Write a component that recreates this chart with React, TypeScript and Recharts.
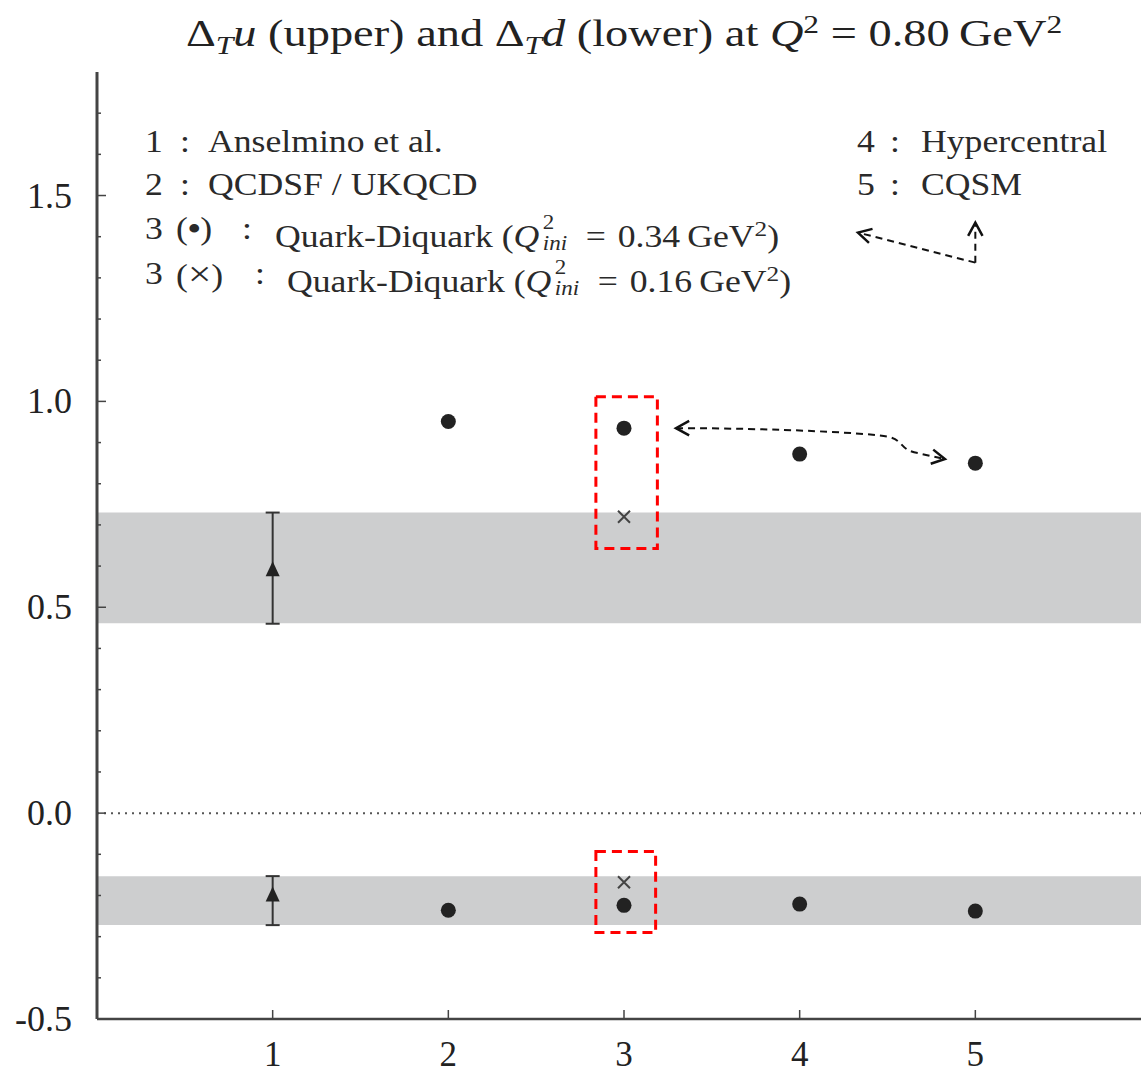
import React from "react";
import {
  ScatterChart,
  Scatter,
  XAxis,
  YAxis,
  ReferenceArea,
  ReferenceLine,
  ErrorBar,
} from "recharts";

// x positions = model number (1..5)
const xTicks = [1, 2, 3, 4, 5];
const yMajor = [-0.5, 0.0, 0.5, 1.0, 1.5];
const yTicks = [
  -0.5, -0.4, -0.3, -0.2, -0.1, 0.0, 0.1, 0.2, 0.3, 0.4, 0.5, 0.6, 0.7, 0.8,
  0.9, 1.0, 1.1, 1.2, 1.3, 1.4, 1.5, 1.6, 1.7,
];

// filled dots (models 2..5)
const dotModels = [2, 3, 4, 5];
const upperDot = [0.951, 0.935, 0.872, 0.85];
const lowerDot = [-0.236, -0.224, -0.221, -0.238];

// crosses (model 3, Q2_ini = 0.16)
const crossModels = [3, 3];
const crossValues = [0.72, -0.168];

// Anselmino et al. (triangles with error bars) [value, minus, plus]
const anselminoModels = [1, 1];
const anselminoValues = [0.59, -0.2];
const anselminoErrors: [number, number][] = [
  [0.13, 0.14],
  [0.072, 0.047],
];

// grey bands from Anselmino
const upperBand = [0.461, 0.73];
const lowerBand = [-0.272, -0.153];

const dots = [
  ...dotModels.map((x, i) => ({ x, y: upperDot[i] })),
  ...dotModels.map((x, i) => ({ x, y: lowerDot[i] })),
];
const crosses = crossModels.map((x, i) => ({ x, y: crossValues[i] }));
const triangles = anselminoModels.map((x, i) => ({
  x,
  y: anselminoValues[i],
  err: anselminoErrors[i],
}));

const ink = "#222";
const axisColor = "#444";

function arrowHead(x: number, y: number, ang: number) {
  const L = 15;
  const w = 0.5;
  const a1 = ang + Math.PI - w;
  const a2 = ang + Math.PI + w;
  return `M ${x + L * Math.cos(a1)} ${y + L * Math.sin(a1)} L ${x} ${y} L ${
    x + L * Math.cos(a2)
  } ${y + L * Math.sin(a2)}`;
}

const straightArrow = (p: any) => {
  const { x1, y1, x2, y2 } = p;
  const ang = Math.atan2(y2 - y1, x2 - x1);
  return (
    <g>
      <line x1={x1} y1={y1} x2={x2} y2={y2} stroke="#111" strokeWidth={2} strokeDasharray="7 5" />
      <path d={arrowHead(x2, y2, ang)} fill="none" stroke="#111" strokeWidth={2.5} />
    </g>
  );
};

const curvedArrow = (p: any) => {
  const { x1, y1, x2, y2 } = p;
  const d = `M ${x1} ${y1} C ${x1 + 100} ${y1} ${x1 + 200} ${y1 + 5} ${x1 + 214} ${y1 + 9} C ${
    x1 + 228
  } ${y1 + 13} ${x1 + 224} ${y1 + 22} ${x1 + 242} ${y1 + 25} L ${x2} ${y2}`;
  return (
    <g>
      <path d={d} fill="none" stroke="#111" strokeWidth={2} strokeDasharray="7 5" />
      <path d={arrowHead(x1, y1, Math.PI)} fill="none" stroke="#111" strokeWidth={2.5} />
      <path d={arrowHead(x2, y2, Math.atan2(5, 28))} fill="none" stroke="#111" strokeWidth={2.5} />
    </g>
  );
};

function YTick(props: any) {
  const { x, y, payload } = props;
  const major = yMajor.some((v) => Math.abs(v - payload.value) < 1e-6);
  return (
    <g>
      <line x1={x} x2={x + (major ? 9 : 4)} y1={y} y2={y} stroke={axisColor} strokeWidth={1.5} />
      {major && (
        <text
          x={x - 25}
          y={y}
          textAnchor="end"
          dominantBaseline="central"
          fontSize={36}
          fill={ink}
          fontFamily="Liberation Serif"
        >
          {payload.value.toFixed(1)}
        </text>
      )}
    </g>
  );
}

function XTick(props: any) {
  const { x, y, payload } = props;
  return (
    <g>
      <line x1={x} x2={x} y1={y} y2={y - 9} stroke={axisColor} strokeWidth={1.5} />
      <text x={x} y={y + 47} textAnchor="middle" fontSize={35} fill={ink} fontFamily="Liberation Serif">
        {payload.value}
      </text>
    </g>
  );
}

function TopTick(props: any) {
  const { x, y } = props;
  return <line x1={x} x2={x} y1={y} y2={y + 9} stroke={axisColor} strokeWidth={1.5} />;
}

// stacked superscript 2 / subscript ini after Q
const Qini = () => (
  <span style={{ display: "inline-block", position: "relative", width: 27, height: 31, marginLeft: 3 }}>
    <span style={{ position: "absolute", left: 0, top: -4, fontSize: 20, lineHeight: "20px" }}>2</span>
    <span style={{ position: "absolute", left: 0, top: 17, fontSize: 20, lineHeight: "20px", fontStyle: "italic" }}>
      ini
    </span>
  </span>
);

const legendLine = (top: number, left: number, parts: [number, React.ReactNode][]) => (
  <div style={{ position: "absolute", top, left: 0, height: 40, lineHeight: "40px", fontSize: 31, color: "#2a2a2a" }}>
    {parts.map(([lx, node], i) => (
      <span
        key={i}
        style={{
          position: "absolute",
          left: left + lx,
          top: 0,
          whiteSpace: "nowrap",
          transform: "scaleX(1.15)",
          transformOrigin: "left center",
        }}
      >
        {node}
      </span>
    ))}
  </div>
);

const supStyle: React.CSSProperties = { fontSize: "0.68em", lineHeight: 0, verticalAlign: "0.5em" };
const subStyle: React.CSSProperties = { fontSize: "0.68em", lineHeight: 0, verticalAlign: "-0.3em", fontStyle: "italic" };

export default function App() {
  return (
    <div
      style={{
        position: "absolute",
        left: 0,
        top: 0,
        width: 1141,
        height: 1074,
        overflow: "hidden",
        background: "#fff",
        fontFamily: "'Liberation Serif', serif",
      }}
    >
      <ScatterChart width={1160} height={1074} margin={{ top: 72, right: 9, bottom: 0, left: 0 }}>
        <XAxis
          type="number"
          dataKey="x"
          domain={[0, 6]}
          ticks={xTicks}
          interval={0}
          height={55}
          tick={<XTick />}
          tickLine={false}
          tickSize={0}
          tickMargin={0}
          axisLine={{ stroke: axisColor, strokeWidth: 2.5 }}
        />
        <XAxis
          xAxisId="top"
          orientation="top"
          type="number"
          dataKey="x"
          domain={[0, 6]}
          ticks={xTicks}
          interval={0}
          height={0}
          tick={<TopTick />}
          tickLine={false}
          tickSize={0}
          tickMargin={0}
          axisLine={{ stroke: axisColor, strokeWidth: 3 }}
        />
        <YAxis
          type="number"
          dataKey="y"
          domain={[-0.5, 1.8]}
          ticks={yTicks}
          interval={0}
          width={97}
          tick={<YTick />}
          tickLine={false}
          tickSize={0}
          tickMargin={0}
          axisLine={{ stroke: axisColor, strokeWidth: 3 }}
        />
        <ReferenceArea y1={upperBand[0]} y2={upperBand[1]} fill="#cdcecf" fillOpacity={1} stroke="none" />
        <ReferenceArea y1={lowerBand[0]} y2={lowerBand[1]} fill="#cdcecf" fillOpacity={1} stroke="none" />
        <ReferenceLine y={0} stroke="#555" strokeWidth={2} strokeDasharray="2 5" />

        <ReferenceArea x1={2.84} x2={3.19} y1={0.643} y2={1.011} fill="none" stroke="#ff0000" strokeWidth={3} strokeDasharray="10 6" />
        <ReferenceArea x1={2.84} x2={3.18} y1={-0.29} y2={-0.093} fill="none" stroke="#ff0000" strokeWidth={3} strokeDasharray="10 6" />

        <ReferenceLine segment={[{ x: 3.296, y: 0.935 }, { x: 4.827, y: 0.86 }]} shape={curvedArrow} />
        <ReferenceLine segment={[{ x: 5.0, y: 1.337 }, { x: 5.0, y: 1.434 }]} shape={straightArrow} />
        <ReferenceLine segment={[{ x: 5.0, y: 1.337 }, { x: 4.332, y: 1.41 }]} shape={straightArrow} />

        <Scatter
          data={triangles}
          isAnimationActive={false}
          shape={(p: any) => (
            <path d={`M ${p.cx} ${p.cy - 9} L ${p.cx + 7} ${p.cy + 6} L ${p.cx - 7} ${p.cy + 6} Z`} fill={ink} />
          )}
        >
          <ErrorBar dataKey="err" direction="y" width={7} stroke="#333" strokeWidth={2} isAnimationActive={false} />
        </Scatter>
        <Scatter
          data={dots}
          isAnimationActive={false}
          shape={(p: any) => <circle cx={p.cx} cy={p.cy} r={7.5} fill={ink} />}
        />
        <Scatter
          data={crosses}
          isAnimationActive={false}
          shape={(p: any) => (
            <path
              d={`M ${p.cx - 6} ${p.cy - 6} L ${p.cx + 6} ${p.cy + 6} M ${p.cx - 6} ${p.cy + 6} L ${p.cx + 6} ${p.cy - 6}`}
              stroke="#444"
              strokeWidth={2}
            />
          )}
        />
      </ScatterChart>

      {/* title */}
      <div
        style={{
          position: "absolute",
          top: 9,
          left: 0,
          width: 1248,
          textAlign: "center",
          fontSize: 38,
          lineHeight: "48px",
          color: ink,
          whiteSpace: "nowrap",
        }}
      >
        <span style={{ display: "inline-block", transform: "scaleX(1.22)" }}>
          Δ<span style={subStyle}>T</span>
          <i>u</i> (upper) and Δ<span style={subStyle}>T</span>
          <i>d</i> (lower) at <i>Q</i>
          <span style={supStyle}>2</span>
          {"\u2005=\u2005"}0.80{"\u2009"}GeV<span style={supStyle}>2</span>
        </span>
      </div>

      {/* legend */}
      {legendLine(122, 145, [
        [0, "1"],
        [35, ":"],
        [63, "Anselmino et al."],
      ])}
      {legendLine(165, 145, [
        [0, "2"],
        [35, ":"],
        [63, "QCDSF / UKQCD"],
      ])}
      {legendLine(209, 145, [
        [0, "3"],
        [31, <>(<b>{"\u2022"}</b>)</>],
        [97, ":"],
        [130, <>Quark-Diquark (<i>Q</i><Qini />{"\u2004=\u2004"}0.34{"\u2009"}GeV<sup style={{ fontSize: 22 }}>2</sup>)</>],
      ])}
      {legendLine(254, 145, [
        [0, "3"],
        [31, <>(<span style={{ fontSize: 36 }}>{"\u00D7"}</span>)</>],
        [110, ":"],
        [142, <>Quark-Diquark (<i>Q</i><Qini />{"\u2004=\u2004"}0.16{"\u2009"}GeV<sup style={{ fontSize: 22 }}>2</sup>)</>],
      ])}
      {legendLine(122, 857, [
        [0, "4"],
        [33, ":"],
        [64, "Hypercentral"],
      ])}
      {legendLine(165, 857, [
        [0, "5"],
        [33, ":"],
        [64, "CQSM"],
      ])}
    </div>
  );
}
